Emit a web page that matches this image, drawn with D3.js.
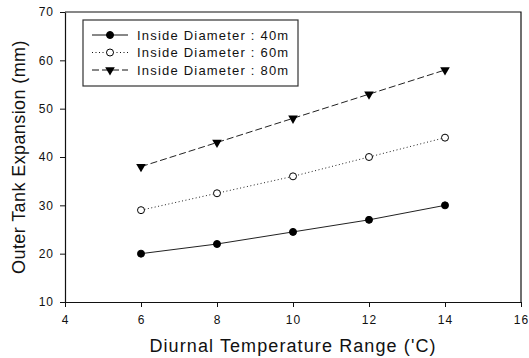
<!DOCTYPE html>
<html>
<head>
<meta charset="utf-8">
<script src="https://cdn.jsdelivr.net/npm/d3@7"></script>
<style>
  html, body { margin: 0; padding: 0; background: #fff; }
  svg { display: block; }
  text { font-family: "Liberation Sans", Arial, sans-serif; fill: #111; }
</style>
</head>
<body>
<svg id="chart" width="529" height="358"></svg>
<script>
// ---- data ----
const temps = [6, 8, 10, 12, 14];
const d40 = [20, 22, 24.5, 27, 30];
const d60 = [29, 32.5, 36, 40, 44];
const d80 = [38, 43, 48, 53, 58];
const seriesNames = ["Inside Diameter : 40m", "Inside Diameter : 60m", "Inside Diameter : 80m"];
const xTicks = [4, 6, 8, 10, 12, 14, 16];
const yTicks = [10, 20, 30, 40, 50, 60, 70];
const xTitle = "Diurnal Temperature Range ('C)";
const yTitle = "Outer Tank Expansion (mm)";

const series = [
  { name: seriesNames[0], values: d40, dash: null, marker: "filled" },
  { name: seriesNames[1], values: d60, dash: "1,2.5", marker: "open" },
  { name: seriesNames[2], values: d80, dash: "7,3", marker: "triangle" }
];

const svg = d3.select("#chart");
const pL = 65, pR = 521, pT = 12, pB = 302;

const x = d3.scaleLinear().domain([4, 16]).range([pL, pR]);
const y = d3.scaleLinear().domain([10, 70]).range([pB, pT]);

// frame (top and right)
svg.append("path")
  .attr("d", `M${pL},${pT}H${pR}V${pB}`)
  .attr("fill", "none").attr("stroke", "#111").attr("stroke-width", 1.2);

// axes
const xAxis = svg.append("g").attr("transform", `translate(0,${pB})`)
  .call(d3.axisBottom(x).tickValues(xTicks).tickSize(5).tickPadding(8).tickSizeOuter(0));
const yAxis = svg.append("g").attr("transform", `translate(${pL},0)`)
  .call(d3.axisLeft(y).tickValues(yTicks).tickSize(5).tickPadding(6).tickSizeOuter(0));
[xAxis, yAxis].forEach(g => {
  g.select(".domain").attr("stroke", "#111").attr("stroke-width", 1.2);
  g.selectAll(".tick line").attr("stroke", "#111");
  g.selectAll(".tick text")
    .style("font-family", '"Liberation Sans", Arial, sans-serif')
    .style("font-size", "12px").style("letter-spacing", "1px").attr("fill", "#333");
});

// axis titles
svg.append("text")
  .attr("x", (pL + pR) / 2).attr("y", 352)
  .attr("text-anchor", "middle")
  .style("font-size", "18px").style("letter-spacing", "1.1px")
  .text(xTitle);
svg.append("text")
  .attr("transform", `translate(25,${(pT + pB) / 2}) rotate(-90)`)
  .attr("text-anchor", "middle")
  .style("font-size", "18px").style("letter-spacing", "0.4px")
  .text(yTitle);

// markers
const tri = d3.symbol().type(d3.symbolTriangle).size(40)();
function drawMarker(g, type) {
  if (type === "filled") {
    g.append("circle").attr("r", 3.5).attr("fill", "#000").attr("stroke", "#000");
  } else if (type === "open") {
    g.append("circle").attr("r", 3.5).attr("fill", "#fff").attr("stroke", "#000").attr("stroke-width", 1);
  } else {
    g.append("path").attr("d", tri).attr("transform", "rotate(180)").attr("fill", "#000");
  }
}

const line = d3.line().x((d, i) => x(temps[i])).y(d => y(d));

series.forEach(s => {
  svg.append("path")
    .attr("d", line(s.values))
    .attr("fill", "none").attr("stroke", "#222").attr("stroke-width", 1)
    .attr("stroke-dasharray", s.dash);
  s.values.forEach((v, i) => {
    const g = svg.append("g").attr("transform", `translate(${x(temps[i])},${y(v)})`);
    drawMarker(g, s.marker);
  });
});

// legend
const lg = svg.append("g");
lg.append("rect")
  .attr("x", 83).attr("y", 20).attr("width", 215).attr("height", 66)
  .attr("fill", "#fff").attr("stroke", "#333").attr("stroke-width", 1.2);
series.forEach((s, i) => {
  const cy = 35 + i * 17.5;
  lg.append("line")
    .attr("x1", 92).attr("x2", 128).attr("y1", cy).attr("y2", cy)
    .attr("stroke", "#111").attr("stroke-width", 1)
    .attr("stroke-dasharray", s.dash);
  const g = lg.append("g").attr("transform", `translate(110,${cy})`);
  drawMarker(g, s.marker);
  lg.append("text")
    .attr("x", 137).attr("y", cy + 4.5)
    .style("font-size", "13px").style("letter-spacing", "1.2px")
    .attr("fill", "#222")
    .text(s.name);
});
</script>
</body>
</html>
